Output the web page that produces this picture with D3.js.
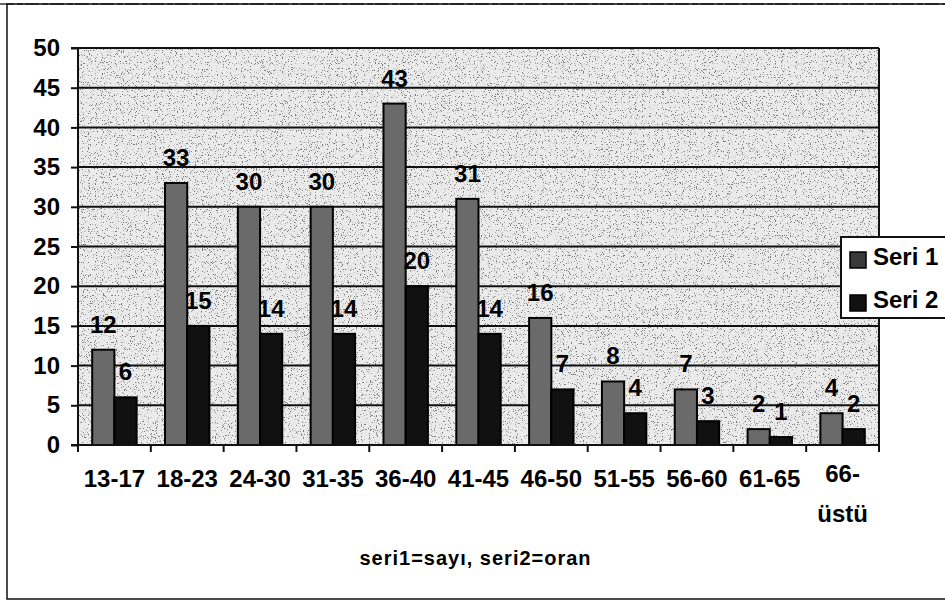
<!DOCTYPE html>
<html>
<head>
<meta charset="utf-8">
<script src="https://cdn.jsdelivr.net/npm/d3@7"></script>
<style>
  html, body { margin: 0; padding: 0; background: #fff; }
  svg { display: block; font-family: "Liberation Sans", Arial, sans-serif; }
</style>
</head>
<body>
<svg id="chart" width="945" height="602"></svg>
<script>
// ---- data ----
const categories = ["13-17", "18-23", "24-30", "31-35", "36-40", "41-45", "46-50", "51-55", "56-60", "61-65", "66-üstü"];
const seri1 = [12, 33, 30, 30, 43, 31, 16, 8, 7, 2, 4];
const seri2 = [6, 15, 14, 14, 20, 14, 7, 4, 3, 1, 2];
const seriesNames = ["Seri 1", "Seri 2"];
const yTicks = [0, 5, 10, 15, 20, 25, 30, 35, 40, 45, 50];
const footnote = "seri1=sayı, seri2=oran";

// ---- layout ----
const svg = d3.select("#chart");
const plot = { left: 78, right: 879, top: 48, bottom: 445 };
const colors = ["#6a6a6a", "#111111"];

const x0 = d3.scaleBand().domain(categories).range([plot.left, plot.right]).padding(0);
const x1 = d3.scaleBand().domain(seriesNames).range([0, x0.bandwidth()]).paddingInner(0).paddingOuter(0.64);
const y = d3.scaleLinear().domain([0, 50]).range([plot.bottom, plot.top]);

// speckle texture (deterministic noise filter) for the plot area
const defs = svg.append("defs");
const flt = defs.append("filter").attr("id", "speckle").attr("x", 0).attr("y", 0).attr("width", 1).attr("height", 1);
flt.append("feTurbulence").attr("type", "fractalNoise").attr("baseFrequency", 0.85).attr("numOctaves", 2).attr("seed", 7).attr("result", "n");
flt.append("feColorMatrix").attr("in", "n").attr("type", "matrix")
  .attr("values", "0 0 0 0 0.2  0 0 0 0 0.2  0 0 0 0 0.2  10 0 0 0 -6.0").attr("result", "dots");
flt.append("feComposite").attr("in", "dots").attr("in2", "SourceGraphic").attr("operator", "atop");

// outer frame
svg.append("line").attr("x1", 0).attr("x2", 945).attr("y1", 4).attr("y2", 4)
  .attr("stroke", "#333").attr("stroke-width", 1.5).attr("stroke-dasharray", "14 3 6 2");
svg.append("rect").attr("x", 7).attr("y", 4).attr("width", 960).attr("height", 595)
  .attr("fill", "none").attr("stroke", "#111").attr("stroke-width", 1.5);

// plot background
svg.append("rect").attr("x", plot.left).attr("y", plot.top)
  .attr("width", plot.right - plot.left).attr("height", plot.bottom - plot.top)
  .attr("fill", "#ebebeb").attr("filter", "url(#speckle)");

// gridlines
svg.append("g").selectAll("line").data(yTicks.filter(d => d > 0)).join("line")
  .attr("x1", plot.left).attr("x2", plot.right)
  .attr("y1", d => y(d)).attr("y2", d => y(d))
  .attr("stroke", "#111").attr("stroke-width", 2);

// right border of plot
svg.append("line").attr("x1", plot.right).attr("x2", plot.right)
  .attr("y1", plot.top).attr("y2", plot.bottom).attr("stroke", "#111").attr("stroke-width", 2);

// bars
const groups = svg.append("g").selectAll("g").data(categories).join("g")
  .attr("transform", d => `translate(${x0(d)},0)`);
groups.selectAll("rect").data((d, i) => [
    { s: seriesNames[0], v: seri1[i], c: colors[0] },
    { s: seriesNames[1], v: seri2[i], c: colors[1] }])
  .join("rect")
  .attr("x", d => x1(d.s)).attr("width", x1.bandwidth())
  .attr("y", d => y(d.v)).attr("height", d => y(0) - y(d.v))
  .attr("fill", d => d.c).attr("stroke", "#000").attr("stroke-width", 2);

// value labels
groups.selectAll("text").data((d, i) => [
    { s: seriesNames[0], v: seri1[i] },
    { s: seriesNames[1], v: seri2[i] }])
  .join("text")
  .attr("x", d => x1(d.s) + x1.bandwidth() / 2)
  .attr("y", d => y(d.v) - 17)
  .attr("text-anchor", "middle")
  .attr("font-size", 24).attr("font-weight", "bold").attr("fill", "#000")
  .text(d => d.v);

// y axis
const yAxis = d3.axisLeft(y).tickValues(yTicks).tickSize(7).tickPadding(11);
const gy = svg.append("g").attr("transform", `translate(${plot.left},0)`).call(yAxis);
gy.select(".domain").attr("stroke", "#111").attr("stroke-width", 2).attr("d", `M-7,${plot.top}H0V${plot.bottom}H-7`);
gy.selectAll(".tick line").attr("stroke", "#111").attr("stroke-width", 2);
gy.selectAll(".tick text").attr("font-size", 24).attr("font-weight", "bold").attr("fill", "#000")
  .attr("font-family", "Liberation Sans, Arial, sans-serif");

// x axis (ticks at category boundaries)
const gx = svg.append("g");
gx.append("line").attr("x1", plot.left).attr("x2", plot.right)
  .attr("y1", plot.bottom).attr("y2", plot.bottom).attr("stroke", "#111").attr("stroke-width", 2);
const bounds = categories.map(c => x0(c)).concat([plot.right]);
gx.selectAll("line.tk").data(bounds).join("line").attr("class", "tk")
  .attr("x1", d => d).attr("x2", d => d).attr("y1", plot.bottom).attr("y2", plot.bottom + 7)
  .attr("stroke", "#111").attr("stroke-width", 2);
gx.selectAll("text").data(categories).join("text")
  .attr("text-anchor", "middle").attr("font-size", 24).attr("font-weight", "bold").attr("fill", "#000")
  .each(function (d) {
    const m = d.match(/^(.*-)(\D.*)$/);
    const lines = m ? [m[1], m[2]] : [d];
    const cx = x0(d) + x0.bandwidth() / 2;
    const t = d3.select(this);
    lines.forEach((ln, k) => {
      t.append("tspan").attr("x", cx)
        .attr("y", lines.length > 1 ? (k === 0 ? 482 : 522) : 487).text(ln);
    });
  });

// footnote
svg.append("text").attr("x", (plot.left + plot.right) / 2 - 3).attr("y", 565)
  .attr("text-anchor", "middle").attr("font-size", 20).attr("font-weight", "bold")
  .attr("letter-spacing", 1).text(footnote);

// legend
const lg = svg.append("g");
lg.append("rect").attr("x", 841).attr("y", 237).attr("width", 130).attr("height", 81)
  .attr("fill", "#fff").attr("stroke", "#111").attr("stroke-width", 2);
const items = lg.selectAll("g").data(seriesNames).join("g")
  .attr("transform", (d, i) => `translate(0,${i * 43})`);
items.append("rect").attr("x", 850).attr("y", 252).attr("width", 16).attr("height", 16)
  .attr("fill", (d, i) => i === 0 ? "#3a3a3a" : colors[1]).attr("stroke", "#000").attr("stroke-width", 1.5);
items.append("text").attr("x", 873).attr("y", 265).attr("font-size", 24).attr("font-weight", "bold")
  .text(d => d);
</script>
</body>
</html>
